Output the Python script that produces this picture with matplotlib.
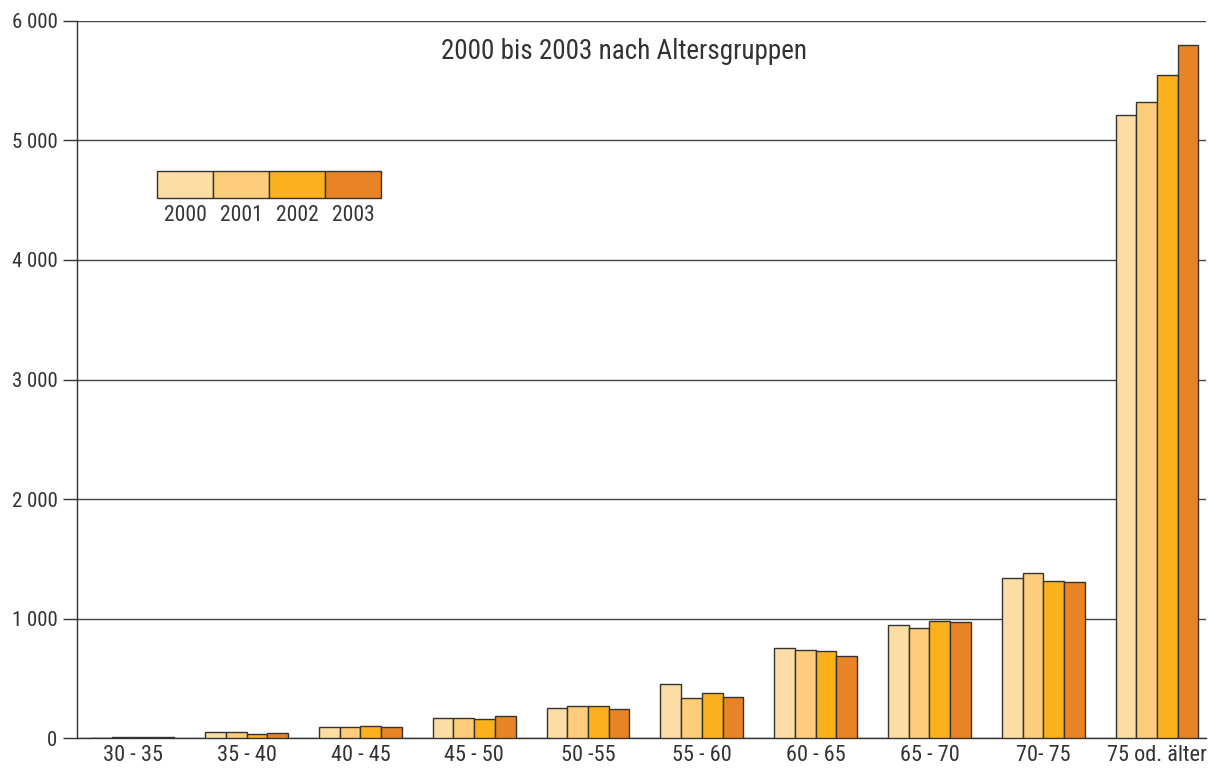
import matplotlib
matplotlib.use("Agg")
import matplotlib.pyplot as plt
from matplotlib.patches import Rectangle
from matplotlib.ticker import FuncFormatter
from matplotlib import font_manager
import numpy as np

names = sorted({f.name for f in font_manager.fontManager.ttflist})
cands = [n for n in ['Roboto Condensed', 'Liberation Sans Narrow', 'Roboto',
                     'Liberation Sans'] if n in names]
plt.rcParams['font.family'] = [cands[0], 'DejaVu Sans']
plt.rcParams['font.stretch'] = 'condensed'

categories = ['30 - 35', '35 - 40', '40 - 45', '45 - 50', '50 -55',
              '55 - 60', '60 - 65', '65 - 70', '70- 75', '75 od. älter']
years = ['2000', '2001', '2002', '2003']
v2000 = [5, 53, 94, 167, 256, 455, 751, 950, 1341, 5215]
v2001 = [10, 55, 92, 167, 272, 338, 740, 922, 1380, 5324]
v2002 = [10, 36, 100, 159, 272, 380, 729, 981, 1318, 5542]
v2003 = [15, 42, 92, 184, 247, 344, 684, 975, 1304, 5799]
series = [v2000, v2001, v2002, v2003]
colors = ['#FDDDA6', '#FDCD7C', '#FBB11B', '#E98426']
title = '2000 bis 2003 nach Altersgruppen'

fig = plt.figure(figsize=(12.18, 7.72), dpi=100)
ax = fig.add_axes([77/1218, 1-738.3/772, (1206-77)/1218, (738.3-20.7)/772])

x = np.arange(len(categories))
bw = 0.182
edge = '#333333'
for i, (vals, c) in enumerate(zip(series, colors)):
    ax.bar(x + (i - 1.5) * bw, vals, width=bw, color=c, edgecolor=edge,
           linewidth=1.0, zorder=3)

ax.set_xlim(-0.49, 9.43)
ax.set_ylim(0, 6000)
ax.set_yticks(range(0, 6001, 1000))
ax.yaxis.set_major_formatter(FuncFormatter(lambda v, p: f'{int(v):,}'.replace(',', ' ')))
ax.set_xticks(x)
ax.set_xticklabels(categories)
ax.tick_params(axis='x', length=0, pad=5, labelsize=16, labelcolor='#333333')
ax.tick_params(axis='y', length=10, width=1, color='#333333', pad=4,
               labelsize=15, labelcolor='#333333')
ax.grid(axis='y', color='#444444', linewidth=1.0, zorder=1)
for s in ['top', 'right']:
    ax.spines[s].set_visible(False)
ax.spines['left'].set_color('#333333')
ax.spines['bottom'].set_color('#333333')
ax.spines['left'].set_linewidth(1.0)
ax.spines['bottom'].set_linewidth(1.0)
ax.spines['left'].set_zorder(4)

ax.text(0.4845, 0.957, title, transform=ax.transAxes, ha='center', va='center',
        fontsize=19.5, color='#333333')

# custom legend
lx0 = (157 - 77) / 1129
lw = 56 / 1129
ly0 = (738.3 - 198) / 717.6
lh = 27 / 717.6
for i, (yr, c) in enumerate(zip(years, colors)):
    ax.add_patch(Rectangle((lx0 + i * lw, ly0), lw, lh, transform=ax.transAxes,
                           facecolor=c, edgecolor=edge, linewidth=1.0, zorder=5,
                           clip_on=False))
    ax.text(lx0 + (i + 0.5) * lw, ly0 - 0.024, yr, transform=ax.transAxes,
            ha='center', va='center', fontsize=15.5, color='#333333')

fig.savefig('out.png', dpi=100)
